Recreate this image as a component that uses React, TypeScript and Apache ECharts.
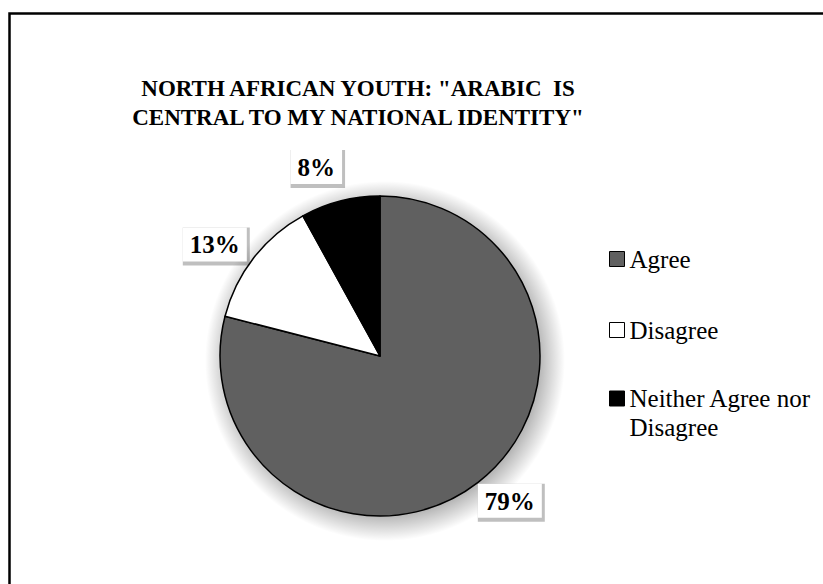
import React, { useEffect, useRef } from "react";
import * as echarts from "echarts";

const titleLines = ['NORTH AFRICAN YOUTH: "ARABIC  IS', 'CENTRAL TO MY NATIONAL IDENTITY"'];
const categories = ["Agree", "Disagree", "Neither Agree nor Disagree"];
const values = [79, 13, 8];
const colors = ["#606060", "#ffffff", "#000000"];

const FONT = "Liberation Serif";

export default function App() {
  const ref = useRef<HTMLDivElement>(null);
  useEffect(() => {
    if (!ref.current) return;
    const chart = echarts.init(ref.current, null, { renderer: "svg" });
    const data = categories.map((name, i) => ({
      name,
      value: values[i],
      itemStyle: { color: colors[i] },
    }));
    const legendTops = [244.5, 315.5, 355];
    const option: any = {
      animation: false,
      backgroundColor: "#ffffff",
      title: {
        text: titleLines.join("\n"),
        left: 358,
        top: 74,
        textAlign: "center",
        padding: 0,
        textStyle: {
          fontFamily: FONT,
          fontWeight: "bold",
          fontSize: 23,
          lineHeight: 29,
          color: "#000",
        },
      },
      legend: categories.map((name, i) => ({
        data: [name],
        orient: "vertical",
        left: 609,
        top: legendTops[i],
        padding: 0,
        itemWidth: 15,
        itemHeight: 15,
        icon: "rect",
        selectedMode: false,
        itemStyle: { borderColor: "#000", borderWidth: 1 },
        formatter: (n: string) =>
          n === "Neither Agree nor Disagree" ? "\nNeither Agree nor\nDisagree" : n,
        textStyle: {
          fontFamily: FONT,
          fontSize: 25,
          lineHeight: 29,
          color: "#000",
        },
      })),
      graphic: [
        {
          type: "rect",
          shape: { x: 9.5, y: 13.5, width: 840, height: 620 },
          style: { fill: "none", stroke: "#000", lineWidth: 2.5 },
          z: 100,
          silent: true,
        },
      ],
      series: [
        {
          type: "pie",
          name: "shadow",
          center: [385, 361],
          radius: 180,
          silent: true,
          z: 1,
          label: { show: false },
          labelLine: { show: false },
          emphasis: { disabled: true },
          itemStyle: {
            color: {
              type: "radial",
              x: 0.5,
              y: 0.5,
              r: 0.5,
              colorStops: [
                { offset: 0, color: "rgba(0,0,0,0.5)" },
                { offset: 0.78, color: "rgba(0,0,0,0.45)" },
                { offset: 0.89, color: "rgba(0,0,0,0.22)" },
                { offset: 1, color: "rgba(0,0,0,0)" },
              ],
            },
          },
          data: [{ name: "__bg", value: 1 }],
        },
        {
          type: "pie",
          name: "North African Youth",
          center: [380, 356],
          radius: 160,
          startAngle: 90,
          clockwise: true,
          z: 2,
          silent: true,
          label: { show: false },
          labelLine: { show: false },
          itemStyle: { borderColor: "#000", borderWidth: 1.5 },
          emphasis: { disabled: true },
          data,
        },
        {
          type: "pie",
          name: "labels",
          center: [380, 356],
          radius: [160, 228],
          startAngle: 94,
          clockwise: true,
          z: 4,
          silent: true,
          itemStyle: { color: "rgba(0,0,0,0)", borderWidth: 0 },
          emphasis: { disabled: true },
          labelLine: { show: false },
          label: {
            show: true,
            position: "inside",
            formatter: "{a|{c}%}",
            backgroundColor: "rgba(0,0,0,0.25)",
            padding: [0, 3, 4, 0],
            rich: {
              a: {
                fontFamily: FONT,
                fontWeight: "bold",
                fontSize: 25,
                color: "#000",
                backgroundColor: "#ffffff",
                padding: [5, 7, 4, 7],
              },
            },
          },
          data: categories.map((name, i) => ({ name, value: values[i] })),
        },
      ],
    };
    chart.setOption(option);
    return () => chart.dispose();
  }, []);
  return (
    <div
      ref={ref}
      style={{ position: "fixed", left: 0, top: 0, width: 823, height: 584 }}
    />
  );
}
